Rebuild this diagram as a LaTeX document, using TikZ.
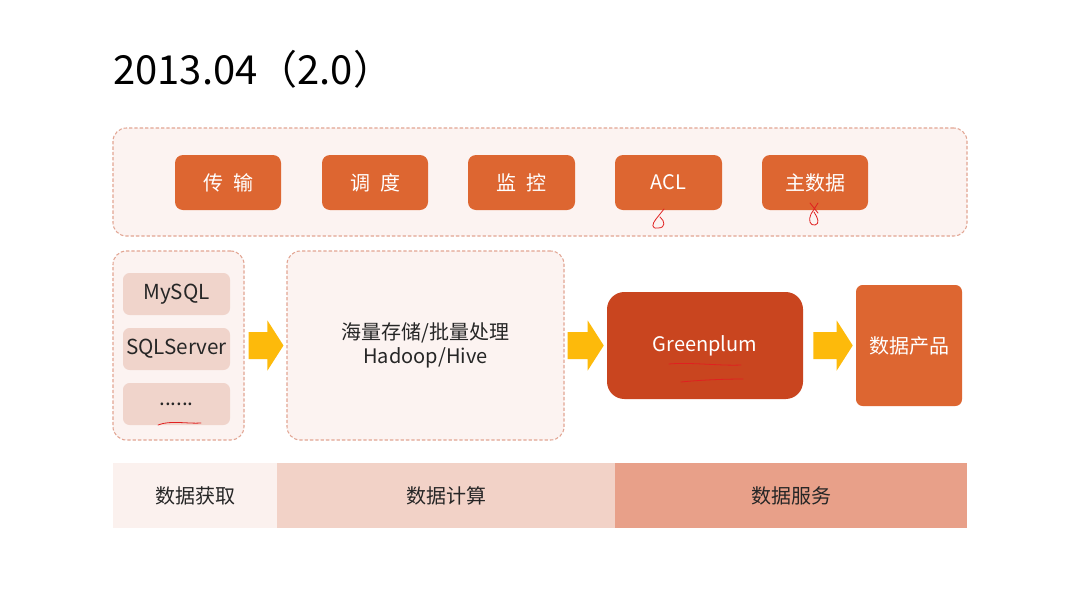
\documentclass[tikz,border=0pt]{standalone}
\usepackage{fontspec}
\setmainfont{Noto Sans CJK SC}
\usetikzlibrary{fit}
\usetikzlibrary{calc}

\definecolor{Rust}{HTML}{DD6631}
\definecolor{DeepRust}{HTML}{C9451F}
\definecolor{Blush}{HTML}{FCF3F1}
\definecolor{DashPink}{HTML}{E2A593}
\definecolor{SourcePink}{HTML}{F0D4CB}
\definecolor{Amber}{HTML}{FDBA0B}
\definecolor{BandLight}{HTML}{FBF1EE}
\definecolor{BandMid}{HTML}{F2D2C7}
\definecolor{BandDark}{HTML}{E8A089}
\definecolor{Scribble}{HTML}{E02020}

\tikzset{
	panel/.style={draw=DashPink, fill=Blush, dash pattern=on 2.5pt off 1.5pt,
		line width=0.8pt, rounded corners=10pt, inner sep=0pt},
	tool/.style={fill=Rust, rounded corners=6pt, inner sep=0pt},
	source/.style={fill=SourcePink, rounded corners=5pt, inner sep=0pt},
	band/.style={inner sep=0pt},
	light text/.style={text=white, font=\fontsize{15}{18}\selectfont},
	dark text/.style={text=black!85, font=\fontsize{15.5}{17}\selectfont,
		align=center},
	yarrow/.style={fill=Amber},
	scribble/.style={draw=Scribble, line width=0.6pt, line cap=round}
}

\begin{document}
\begin{tikzpicture}[x=0.75pt, y=-0.75pt]

\useasboundingbox[fill=white] (0,0) rectangle (1080,607);

\node[
	anchor=base west,
	inner sep=0pt,
	font=\fontsize{30}{36}\selectfont
] (title) at (113,84) {2013.04（2.0）};

% --- top bar
\node[panel, fit={(113,128) (967,236)}] (toolbar) {};

\node[tool, fit={(175,155) (281,210)},
	label={[light text]center:传\hspace{.5em}输}] (transfer) {};
\node[tool, fit={(322,155) (428,210)},
	label={[light text]center:调\hspace{.5em}度}] (schedule) {};
\node[tool, fit={(468,155) (575,210)},
	label={[light text]center:监\hspace{.5em}控}] (monitor) {};
\node[tool, fit={(615,155) (722,210)},
	label={[light text]center:ACL}] (acl) {};
\node[tool, fit={(762,155) (868,210)},
	label={[light text]center:主数据}] (masterdata) {};

% --- sources
\node[panel, fit={(113,251) (244,440)}] (getbox) {};

\node[source, fit={(123,273) (230,315)},
	label={[dark text]center:MySQL}] (mysql) {};
\node[source, fit={(123,328) (230,370)},
	label={[dark text]center:SQLServer}] (sqlserver) {};
\node[source, fit={(123,383) (230,425)},
	label={[dark text]center:......}] (more) {};

% --- compute
\node[panel, fit={(287,251) (564,440)},
	label={[dark text, font=\fontsize{15}{17.5}\selectfont]center:海量存储/批量处理\\Hadoop/Hive}] (calcbox) {};

\node[tool, fill=DeepRust, rounded corners=13pt, fit={(607,292) (803,399)},
	label={[light text]center:Greenplum}] (gp) {};

\node[tool, rounded corners=5pt, fit={(856,285) (962,406)},
	label={[light text]center:数据产品}] (product) {};

% --- block arrows
\foreach \a/\b/\g in {getbox/calcbox/4, calcbox/gp/3, gp/product/10} {
	\fill[yarrow] ($(\a.east)+(\g,-13.5)$) -- ($(\b.west)+(-19,-13.5)$)
		-- ($(\b.west)+(-19,-25)$) -- ($(\b.west)+(-3,0)$)
		-- ($(\b.west)+(-19,25)$) -- ($(\b.west)+(-19,13.5)$)
		-- ($(\a.east)+(\g,13.5)$) -- cycle;
}

% --- bottom bands
\node[band, fill=BandLight, fit={(113,463) (277,528)},
	label={[dark text, font=\fontsize{15}{17}\selectfont]center:数据获取}] (acquire) {};
\node[band, fill=BandMid, fit={(277,463) (615,528)},
	label={[dark text, font=\fontsize{15}{17}\selectfont]center:数据计算}] (compute) {};
\node[band, fill=BandDark, fit={(615,463) (967,528)},
	label={[dark text, font=\fontsize{15}{17}\selectfont]center:数据服务}] (serve) {};

% --- red pen marks
\draw[scribble] (158,425) .. controls (170,420) and (188,424) .. (201,423);
\draw[scribble] (664,209) -- (656,219) .. controls (652,224) and (651,229) .. (658,228)
	.. controls (666,228) and (665,221) .. (660,217);
\draw[scribble] (810,203) -- (818,213) (818,203) -- (811,214)
	.. controls (808,220) and (810,226) .. (815,225)
	.. controls (820,224) and (818,218) .. (814,212);
\draw[scribble] (669,364) .. controls (690,362) and (720,366) .. (741,365);
\draw[scribble] (681,382) .. controls (700,380) and (725,379) .. (743,379);

\end{tikzpicture}
\end{document}
